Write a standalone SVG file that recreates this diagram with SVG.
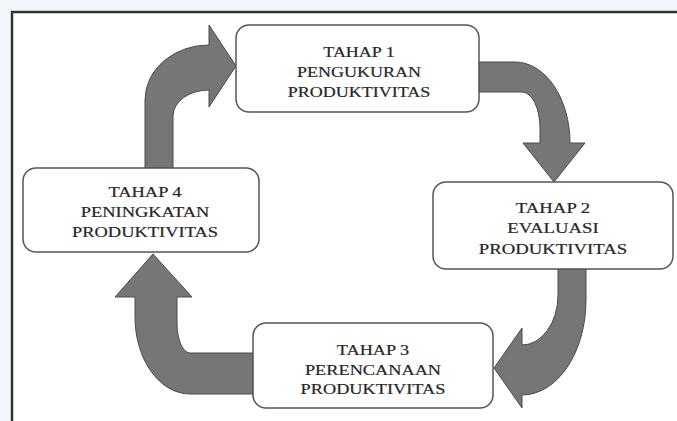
<svg xmlns="http://www.w3.org/2000/svg" width="677" height="421" viewBox="0 0 677 421">
<style>
.node rect{fill:#fff;stroke:#555;stroke-width:1.5}
.node text{font-family:"Liberation Serif","Times New Roman",serif;font-size:15px;fill:#262626;stroke:#262626;stroke-width:0.2;text-anchor:middle}
.arrow{fill:#767676;stroke:#4a4a4a;stroke-width:1;stroke-linejoin:miter}
.frame{fill:none;stroke:#333;stroke-width:2.5}
</style>
<rect x="0" y="0" width="677" height="421" fill="#fff"/>
<rect x="0" y="0" width="677" height="10" fill="#f2f6fb"/>
<rect x="0" y="0" width="10" height="421" fill="#f2f6fb"/>
<path class="frame" d="M12,421 L12,12 L677,12"/>
<g id="connectors">
<path id="c4-1" class="arrow" d="M145,168 L145,100 A64,55 0 0 1 209,45 L209,25 L236,66 L209,107 L209,90 A36,26 0 0 0 173,116 L173,168 Z"/>
<path id="c1-2" class="arrow" d="M479,62 L515,62 A55,81 0 0 1 570,143 L585,143 L554,182 L523,143 L540,143 L540,128 A18,36 0 0 0 522,92 L479,92 Z"/>
<path id="c2-3" class="arrow" d="M586,269 L586,300 A64,95 0 0 1 522,395 L522,408 L494,368 L522,328 L522,345 A36,50 0 0 0 558,295 L558,269 Z"/>
<path id="c3-4" class="arrow" d="M253,353 L190,353 A13,30 0 0 1 177,323 L177,297 L192,297 L153,254 L115,297 L135,297 L135,317 A55,77 0 0 0 190,394 L253,394 Z"/>
</g>
<g id="node1" class="node">
<rect x="236" y="25" width="243" height="87" rx="13"/>
<g transform="translate(359,0) scale(1.2,1)">
<text x="0" y="57">TAHAP 1</text>
<text x="0" y="77">PENGUKURAN</text>
<text x="0" y="97">PRODUKTIVITAS</text>
</g>
</g>
<g id="node2" class="node">
<rect x="433" y="182" width="240" height="87" rx="13"/>
<g transform="translate(553,0) scale(1.25,1)">
<text x="0" y="213">TAHAP 2</text>
<text x="0" y="233">EVALUASI</text>
<text x="0" y="254">PRODUKTIVITAS</text>
</g>
</g>
<g id="node3" class="node">
<rect x="253" y="323" width="240" height="85" rx="13"/>
<g transform="translate(373,0) scale(1.22,1)">
<text x="0" y="355">TAHAP 3</text>
<text x="0" y="375">PERENCANAAN</text>
<text x="0" y="394">PRODUKTIVITAS</text>
</g>
</g>
<g id="node4" class="node">
<rect x="23" y="168" width="236" height="84" rx="13"/>
<g transform="translate(145,0) scale(1.23,1)">
<text x="0" y="197">TAHAP 4</text>
<text x="0" y="217">PENINGKATAN</text>
<text x="0" y="237">PRODUKTIVITAS</text>
</g>
</g>
</svg>
